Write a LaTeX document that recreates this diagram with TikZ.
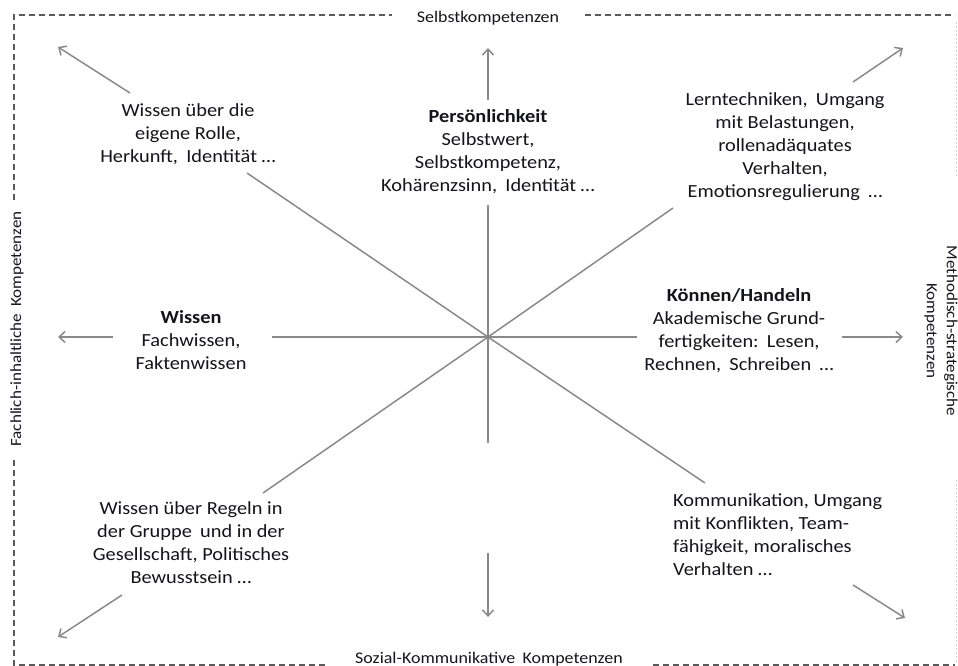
\documentclass[tikz,border=0pt]{standalone}
\usepackage{fontspec}
\setmainfont{Carlito}[FakeStretch=1.1]
\usetikzlibrary{arrows.meta}
\definecolor{raygray}{HTML}{8A8A8A}
\definecolor{boxgray}{HTML}{5A5A5A}
\definecolor{txt}{HTML}{14141C}
\newcommand\dsp{\hspace{0.45em}}
\tikzset{
  ray/.style={draw=raygray, line width=1.5pt},
  arr/.style={draw=raygray, line width=1.5pt, -{Straight Barb[length=6pt,width=11pt]}},
  border/.style={draw=boxgray, line width=1.2pt, dash pattern=on 6pt off 4pt},
  faint/.style={draw=gray!35, line width=0.8pt, dash pattern=on 2pt off 2pt},
  body/.style={text=txt, align=center, inner sep=0pt, font=\fontsize{18.5}{23}\selectfont},
  lbl/.style={text=txt, align=center, inner sep=0pt, font=\fontsize{15.5}{20}\selectfont},
  lblh/.style={lbl, font=\fontsize{16.3}{20}\selectfont},
}
\begin{document}
\begin{tikzpicture}[x=1pt,y=-1pt]
\useasboundingbox (0,0) rectangle (958,666);
\clip (0,0) rectangle (958,666);
% centre and ray ends
\coordinate (c) at (488,337);
\coordinate (eU) at (488,205);
\coordinate (eD) at (488,443);
\coordinate (eL) at (272,337);
\coordinate (eR) at (637,337);
\coordinate (eUL) at (247,173);
\coordinate (eUR) at (673,208);
\coordinate (eDL) at (263,493);
\coordinate (eDR) at (705,483);
\foreach \e in {eU,eD,eL,eR,eUL,eUR,eDL,eDR} \draw[ray] (c) -- (\e);
% outer arrows
\coordinate (aU1) at (488,100);  \coordinate (aU2) at (488,48);
\coordinate (aD1) at (488,553);  \coordinate (aD2) at (488,617);
\coordinate (aL1) at (113,337);  \coordinate (aL2) at (58,337);
\coordinate (aR1) at (842,337);  \coordinate (aR2) at (903,337);
\coordinate (aUL1) at (130,93);  \coordinate (aUL2) at (58,47);
\coordinate (aUR1) at (853,82);  \coordinate (aUR2) at (903,48);
\coordinate (aDL1) at (122,595); \coordinate (aDL2) at (58,637);
\coordinate (aDR1) at (853,585); \coordinate (aDR2) at (905,618);
\foreach \a in {aU,aD,aL,aR,aUL,aUR,aDL,aDR} \draw[arr] (\a1) -- (\a2);
% dashed frame
\coordinate (tl) at (14,15);
\coordinate (t1) at (392,15);
\coordinate (t2) at (585,15);
\coordinate (tr) at (955,15);
\coordinate (bl) at (14,665);
\coordinate (b1) at (325,665);
\coordinate (b2) at (653,665);
\coordinate (br) at (955,665);
\coordinate (l1) at (14,200);
\coordinate (l2) at (14,460);
\draw[border] (l1) -- (tl) -- (t1);
\draw[border] (t2) -- (tr);
\draw[border] (l2) -- (bl) -- (b1);
\draw[border] (b2) -- (br);
\coordinate (r0) at (956,22);
\coordinate (r1) at (956,178);
\coordinate (r2) at (956,480);
\coordinate (r3) at (956,662);
\draw[faint] (r0) -- (r1);
\draw[faint] (r2) -- (r3);
% frame labels
\node[lblh] (top) at (488,18) {Selbstkompetenzen};
\node[lblh] (bot) at (489,659) {Sozial-Kommunikative\dsp Kompetenzen};
\node[lbl, rotate=90] (left) at (17,329) {Fachlich-inhaltliche\dsp Kompetenzen};
\node[lbl, rotate=-90] (right) at (941,331) {Methodisch-strategische\\Kompetenzen};
% texts
\node[body] (tlT) at (188,134) {Wissen über die\\eigene Rolle,\\Herkunft,\dsp Identität …};
\node[body] (pers) at (488,152) {\textbf{Persönlichkeit}\\Selbstwert,\\Selbstkompetenz,\\Kohärenzsinn,\dsp Identität …};
\node[body] (trT) at (785,147) {Lerntechniken,\dsp Umgang\\mit Belastungen,\\rollenadäquates\\Verhalten,\\Emotionsregulierung\dsp …};
\node[body] (wiss) at (191,340) {\textbf{Wissen}\\Fachwissen,\\Faktenwissen};
\node[body] (koen) at (739,331) {\textbf{Können/Handeln}\\Akademische Grund-\\fertigkeiten:\dsp Lesen,\\Rechnen,\dsp Schreiben\dsp …};
\node[body] (blT) at (191,543) {Wissen über Regeln in\\der Gruppe\dsp und in der\\Gesellschaft, Politisches\\Bewusstsein …};
\node[body, align=left, anchor=west] (brT) at (673,535) {Kommunikation, Umgang\\mit Konflikten, Team-\\fähigkeit, moralisches\\Verhalten …};
\end{tikzpicture}
\end{document}
